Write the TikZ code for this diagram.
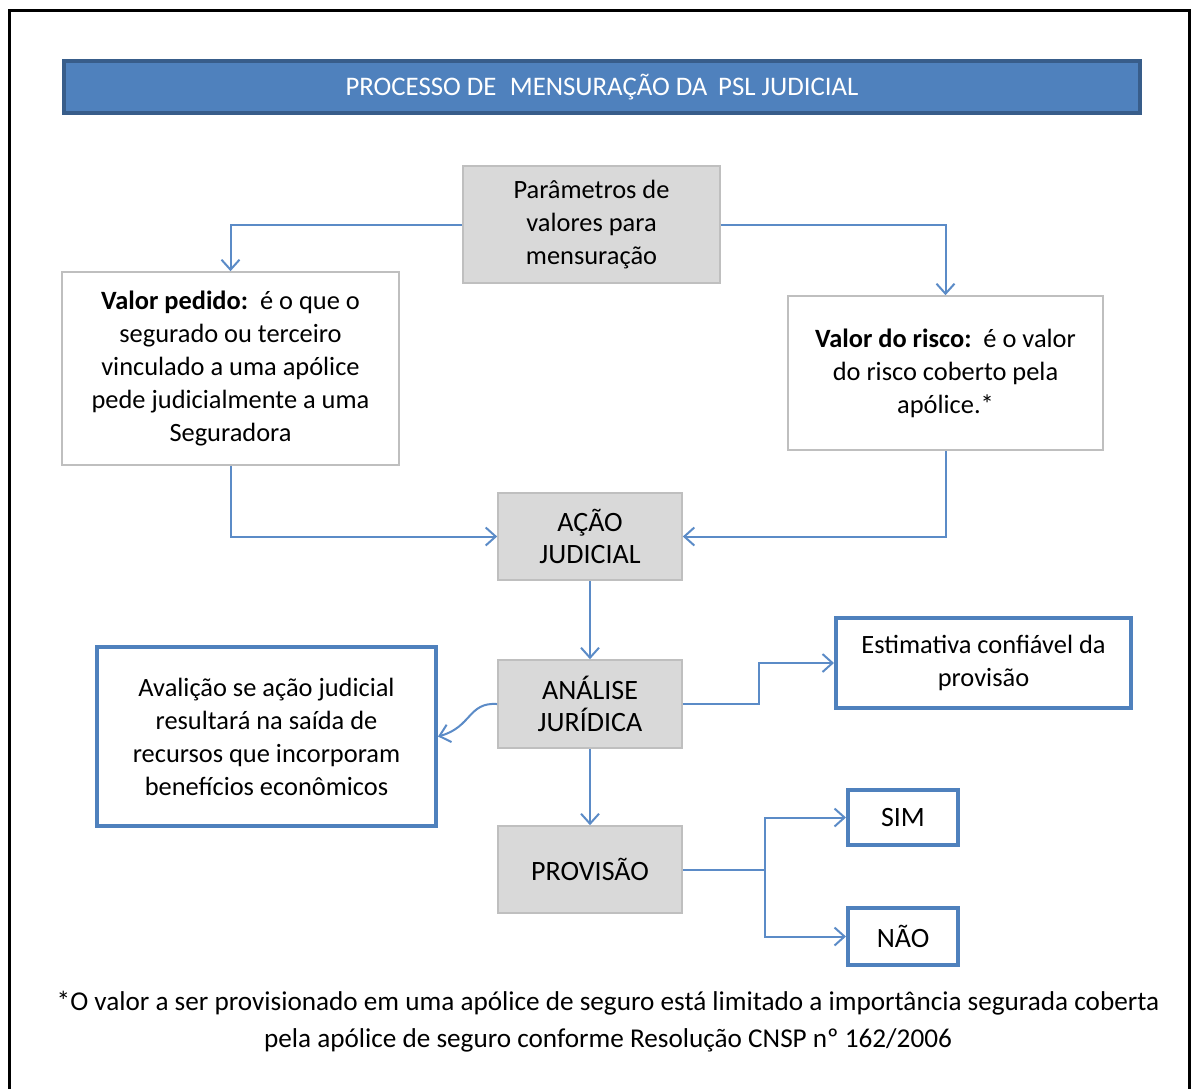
\documentclass[tikz,border=0pt]{standalone}
\usepackage{fontspec}
\setmainfont{Carlito}
\usetikzlibrary{arrows.meta}
\definecolor{accent}{HTML}{4F81BD}
\definecolor{accentdark}{HTML}{385D8A}
\definecolor{flow}{HTML}{5B8BC7}
\definecolor{greyfill}{HTML}{D9D9D9}
\definecolor{greyline}{HTML}{BFBFBF}
\begin{document}
\begin{tikzpicture}[x=0.5pt,y=-0.5pt,
  txt/.style={font=\fontsize{13.2}{16.5}\selectfont,align=center,inner sep=0pt},
  caps/.style={font=\fontsize{14}{16.2}\selectfont},
  greybox/.style={txt,caps,draw=greyline,fill=greyfill,line width=0.8pt},
  whitebox/.style={txt,draw=greyline,fill=white,line width=0.8pt},
  bluebox/.style={txt,draw=accent,fill=white,line width=2pt},
  link/.style={draw=flow,line width=1pt,-{Straight Barb[length=5pt,width=9pt]}},
  plain/.style={draw=flow,line width=1pt}]
\useasboundingbox (0,0) rectangle (1194,1088);
% outer frame (open at the bottom)
\draw[line width=1.5pt] (9,1100) -- (9,10.5) -- (1189,10.5) -- (1189,1100);
% title bar
\node[draw=accentdark,fill=accent,line width=2pt,minimum width=538pt,minimum height=26pt,
  text=white,font=\fontsize{13.4}{16}\selectfont,inner sep=0pt] (title) at (602,87)
  {PROCESSO DE\hspace{0.5em}MENSURAÇÃO DA\hspace{0.4em}PSL JUDICIAL};
% boxes
\node[greybox,font=\fontsize{13.2}{16.5}\selectfont,minimum width=128.5pt,minimum height=58.5pt] (par) at (591.5,224.5)
  {Parâmetros de\\valores para\\mensuração};
\node[whitebox,minimum width=168.5pt,minimum height=96.5pt] (vp) at (230.5,368.5)
  {\textbf{Valor pedido:}\ \ é o que o\\segurado ou terceiro\\vinculado a uma apólice\\pede judicialmente a uma\\Seguradora};
\node[whitebox,minimum width=157.5pt,minimum height=77pt] (vr) at (945.5,373)
  {\textbf{Valor do risco:}\ \ é o valor\\do risco coberto pela\\apólice.*};
\node[greybox,minimum width=92pt,minimum height=43.5pt] (acao) at (590,536.5)
  {AÇÃO\\JUDICIAL};
\node[greybox,minimum width=92pt,minimum height=44pt] (anal) at (590,704)
  {ANÁLISE\\JURÍDICA};
\node[greybox,minimum width=92pt,minimum height=43.5pt] (prov) at (590,869.5)
  {PROVISÃO};
\node[bluebox,minimum width=169.5pt,minimum height=89.5pt] (aval) at (266.5,736.5)
  {Avalição se ação judicial\\resultará na saída de\\recursos que incorporam\\benefícios econômicos};
\node[bluebox,minimum width=147.5pt,minimum height=45pt] (est) at (983.5,663)
  {Estimativa confiável da\\provisão};
\node[bluebox,caps,minimum width=55pt,minimum height=27.5pt] (sim) at (903,817.5) {SIM};
\node[bluebox,caps,minimum width=55pt,minimum height=28.5pt] (nao) at (903,936.5) {NÃO};
% connectors
\draw[link] (par.west) -| (vp.north);
\draw[link] (par.east) -| (vr.north);
\draw[link] (vp.south) |- (acao.west);
\draw[link] (vr.south) |- (acao.east);
\draw[link] (acao) -- (anal);
\draw[link] (anal) -- (prov);
\draw[link] (anal.east) -- ++(76,0) |- (est.west);
\draw[link] (anal.west) .. controls (468,702) and (472,727) .. (aval.east);
\coordinate (split) at (765,869.5);
\draw[plain] (prov.east) -- (split);
\draw[link] (split) |- (sim.west);
\draw[link] (split) |- (nao.west);
% footnote
\node[txt,font=\fontsize{13.6}{18.5}\selectfont] (note) at (608,1021.5)
  {*O valor a ser provisionado em uma apólice de seguro está limitado a importância segurada coberta\\pela apólice de seguro conforme Resolução CNSP nº 162/2006};
\end{tikzpicture}
\end{document}
